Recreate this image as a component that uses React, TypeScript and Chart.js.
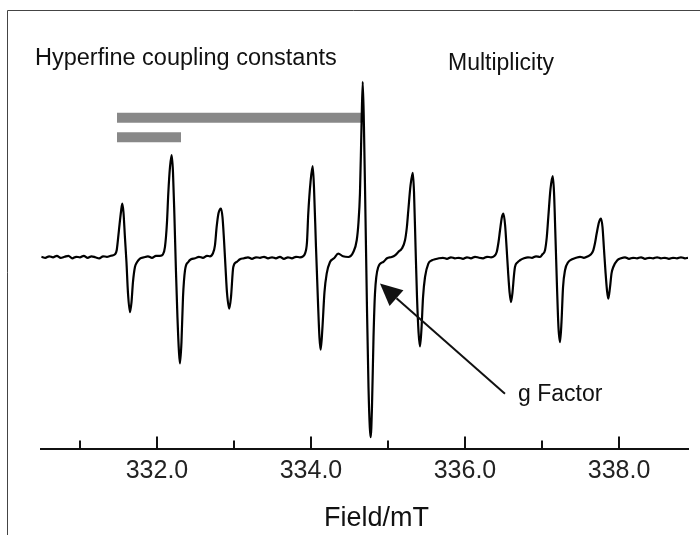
import React, { useEffect, useRef } from "react";
import { Chart, registerables } from "chart.js";

Chart.register(...registerables);

// ESR spectrum: [field (mT), signal (arb. units, baseline = 0)]
const SPECTRUM: [number, number][] = [
  [330.50, 0.5], [330.55, -0.5], [330.60, 1], [330.65, 0], [330.70, 1.5], [330.75, -0.5], [330.80, 0.5],
  [330.85, 1.5], [330.90, -1], [330.95, 0.5], [331.00, 0], [331.05, 1.5], [331.10, -0.5], [331.15, 1],
  [331.20, 0], [331.25, -1], [331.30, 1], [331.35, 0.5], [331.40, 1.5],
  [331.455, 3], [331.477, 7], [331.506, 27], [331.532, 45], [331.549, 53.7], [331.565, 45], [331.584, 20],
  [331.604, -5], [331.623, -35], [331.649, -54.7], [331.669, -45], [331.688, -25], [331.714, -9.7],
  [331.740, -5], [331.779, -1.3],
  [331.831, 0], [331.883, 1], [331.935, -0.5], [331.987, 1.5], [332.039, 1.5],
  [332.078, 3], [332.104, 10.3], [332.130, 35], [332.147, 63.7], [332.169, 90], [332.191, 102], [332.208, 85],
  [332.227, 40], [332.247, -15], [332.266, -60], [332.286, -95], [332.299, -106], [332.318, -85],
  [332.338, -40], [332.364, -13], [332.407, -4.7], [332.442, -2], [332.494, -1],
  [332.545, 0.5], [332.597, -0.5], [332.649, 1.5], [332.688, 1],
  [332.727, 4], [332.753, 12], [332.775, 30.3], [332.799, 44], [332.831, 48.7], [332.851, 40], [332.870, 18],
  [332.890, -10], [332.909, -35], [332.939, -51.3], [332.961, -40], [332.991, -9.7], [333.035, -4.7],
  [333.078, -2],
  [333.130, -1], [333.182, 0], [333.234, -1.5], [333.286, 0], [333.338, -0.5], [333.390, 0.5], [333.442, -1],
  [333.494, 0], [333.545, -1], [333.597, 0.5], [333.649, -1.5], [333.701, 0], [333.753, -1], [333.805, 0.5],
  [333.857, 0], [333.896, 1],
  [333.922, 3.7], [333.948, 15], [333.965, 44], [333.994, 75], [334.022, 91], [334.039, 70], [334.065, 10.3],
  [334.091, -45], [334.110, -80], [334.126, -92.3], [334.149, -70], [334.175, -35], [334.204, -16.3],
  [334.247, -4.7], [334.299, -1], [334.354, 3.7], [334.416, 1], [334.485, 0.3], [334.550, 5.3], [334.594, 17],
  [334.617, 35], [334.636, 63.7], [334.656, 130], [334.672, 175.3], [334.688, 130], [334.708, 40],
  [334.727, -50], [334.747, -130], [334.764, -170], [334.775, -179.7], [334.792, -150], [334.812, -80],
  [334.831, -36.3], [334.874, -9.7], [334.939, -4.7], [334.987, -1], [335.048, 0.3], [335.091, 2],
  [335.134, 5.3], [335.182, 9], [335.221, 17],
  [335.245, 30], [335.264, 47], [335.293, 72], [335.322, 84.3], [335.338, 65], [335.358, 10], [335.377, -40],
  [335.397, -75], [335.416, -89], [335.436, -70], [335.455, -40], [335.481, -19.7], [335.524, -6.3],
  [335.571, -3], [335.610, -2],
  [335.662, -1], [335.714, -0.5], [335.766, -1.5], [335.818, 0], [335.870, -1], [335.922, -0.5],
  [335.974, -1.5], [336.026, 0], [336.078, -1], [336.130, 0.5], [336.182, -0.5], [336.234, -1],
  [336.286, 0.5], [336.338, 0], [336.377, 1],
  [336.412, 5.3], [336.435, 15], [336.455, 27], [336.479, 40], [336.499, 43.7], [336.521, 32], [336.540, 10],
  [336.560, -15], [336.579, -35], [336.597, -44.7], [336.617, -35], [336.636, -18], [336.649, -9.7],
  [336.682, -5], [336.714, -3],
  [336.766, -1], [336.818, 0], [336.870, -0.5], [336.922, 1], [336.974, 0.3], [337.006, 3],
  [337.039, 7], [337.062, 20], [337.082, 40.3], [337.110, 68], [337.139, 81], [337.156, 65], [337.175, 20],
  [337.195, -30], [337.214, -70], [337.234, -84.7], [337.253, -65], [337.273, -30], [337.299, -13],
  [337.342, -4.7], [337.390, -2],
  [337.442, -0.5], [337.494, 0.5], [337.545, -0.5], [337.597, 1], [337.636, 3],
  [337.666, 7], [337.688, 14], [337.710, 23.7], [337.740, 35], [337.766, 38.7], [337.786, 30], [337.805, 8],
  [337.825, -15], [337.844, -33], [337.861, -41.3], [337.883, -30], [337.903, -16], [337.926, -9.7],
  [337.978, -3],
  [338.026, -1], [338.078, 0], [338.130, -1.5], [338.182, -0.5], [338.234, -1], [338.286, 0], [338.338, -1.5],
  [338.390, -0.5], [338.442, -1], [338.494, 0], [338.545, -1], [338.597, -0.5], [338.649, -1.5],
  [338.701, -0.5], [338.753, -1], [338.805, 0], [338.857, -1], [338.896, -0.5],
];

// Hyperfine coupling bars: [start mT, end mT, level]
const COUPLING_LONG: [number, number, number] = [331.481, 334.662, 139.3];
const COUPLING_SHORT: [number, number, number] = [331.481, 332.312, 120];

const FIELD_MIN = 330.494;
const FIELD_MAX = 338.896;
const SIGNAL_MIN = -191;
const SIGNAL_MAX = 257;

const MAJOR_TICKS = [332, 334, 336, 338];
const TICK_LABELS = ["332.0", "334.0", "336.0", "338.0"];

const X_TITLE = "Field/mT";
const LABEL_HYPERFINE = "Hyperfine coupling constants";
const LABEL_MULTIPLICITY = "Multiplicity";
const LABEL_G = "g Factor";

const FONT = '"Liberation Sans", Arial, Helvetica, sans-serif';

const annotationPlugin = {
  id: "esrAnnotations",
  beforeDraw(chart: any, _args: any, opts: any) {
    const { ctx, width, height } = chart;
    ctx.save();
    ctx.strokeStyle = opts.frameColor;
    ctx.lineWidth = 1;
    ctx.beginPath();
    ctx.moveTo(opts.frameLeft, height);
    ctx.lineTo(opts.frameLeft, opts.frameTop);
    ctx.lineTo(width, opts.frameTop);
    ctx.stroke();
    ctx.restore();
  },
  afterDraw(chart: any, _args: any, opts: any) {
    const { ctx } = chart;
    const xs = chart.scales.x;
    const ys = chart.scales.y;
    ctx.save();
    // inward tick marks
    ctx.strokeStyle = "#111";
    ctx.lineWidth = 2;
    const bottom = chart.chartArea.bottom;
    xs.ticks.forEach((t: any) => {
      const px = Math.round(xs.getPixelForValue(t.value));
      const len = MAJOR_TICKS.includes(t.value) ? 12 : 8;
      ctx.beginPath();
      ctx.moveTo(px, bottom);
      ctx.lineTo(px, bottom - len);
      ctx.stroke();
    });
    // texts
    ctx.fillStyle = "#111";
    ctx.textBaseline = "alphabetic";
    opts.texts.forEach((t: any) => {
      ctx.font = `${t.size}px ${FONT}`;
      ctx.textAlign = t.align;
      ctx.fillText(t.text, xs.getPixelForValue(t.x), ys.getPixelForValue(t.y));
    });
    // arrow
    const a = opts.arrow;
    const x1 = xs.getPixelForValue(a.fromX);
    const y1 = ys.getPixelForValue(a.fromY);
    const x2 = xs.getPixelForValue(a.toX);
    const y2 = ys.getPixelForValue(a.toY);
    const ang = Math.atan2(y2 - y1, x2 - x1);
    const hl = a.headLength;
    const hw = a.headWidth;
    const bx = x2 - hl * Math.cos(ang);
    const by = y2 - hl * Math.sin(ang);
    ctx.strokeStyle = "#111";
    ctx.lineWidth = 2;
    ctx.beginPath();
    ctx.moveTo(x1, y1);
    ctx.lineTo(bx, by);
    ctx.stroke();
    ctx.fillStyle = "#111";
    ctx.beginPath();
    ctx.moveTo(x2, y2);
    ctx.lineTo(bx + hw * Math.sin(ang), by - hw * Math.cos(ang));
    ctx.lineTo(bx - hw * Math.sin(ang), by + hw * Math.cos(ang));
    ctx.closePath();
    ctx.fill();
    ctx.restore();
  },
};

export default function App() {
  const ref = useRef<HTMLCanvasElement | null>(null);

  useEffect(() => {
    if (!ref.current) return;
    const bar = (b: [number, number, number]) => [
      { x: b[0], y: b[2] },
      { x: b[1], y: b[2] },
    ];
    const chart = new Chart(ref.current, {
      type: "line",
      data: {
        datasets: [
          {
            label: "ESR spectrum",
            data: SPECTRUM.map(([x, y]) => ({ x, y })),
            borderColor: "#000",
            borderWidth: 2.2,
            pointRadius: 0,
            tension: 0,
            cubicInterpolationMode: "monotone",
            fill: false,
            order: 0,
          },
          {
            label: "Coupling long",
            data: bar(COUPLING_LONG),
            borderColor: "#888888",
            borderWidth: 10,
            borderCapStyle: "butt",
            pointRadius: 0,
            fill: false,
            order: 1,
          },
          {
            label: "Coupling short",
            data: bar(COUPLING_SHORT),
            borderColor: "#888888",
            borderWidth: 10,
            borderCapStyle: "butt",
            pointRadius: 0,
            fill: false,
            order: 1,
          },
        ],
      },
      options: {
        animation: false,
        responsive: false,
        maintainAspectRatio: false,
        layout: { padding: { left: 41, right: 12, top: 0, bottom: 41.5 } },
        plugins: {
          legend: { display: false },
          tooltip: { enabled: false },
          esrAnnotations: {
            frameLeft: 7.5,
            frameTop: 10.5,
            frameColor: "#444",
            texts: [
              { text: LABEL_HYPERFINE, x: 330.416, y: 192, size: 23.5, align: "left" },
              { text: LABEL_MULTIPLICITY, x: 335.779, y: 187, size: 23, align: "left" },
              { text: LABEL_G, x: 336.688, y: -144, size: 23, align: "left" },
              { text: X_TITLE, x: 334.851, y: -268, size: 27, align: "center" },
            ],
            arrow: {
              fromX: 336.519,
              fromY: -136.3,
              toX: 334.896,
              toY: -26.3,
              headLength: 22,
              headWidth: 10.5,
            },
          },
        } as any,
        scales: {
          x: {
            type: "linear",
            min: FIELD_MIN,
            max: FIELD_MAX,
            grid: { display: true, drawOnChartArea: false, drawTicks: false },
            border: { display: true, color: "#111", width: 2 },
            ticks: {
              stepSize: 1,
              includeBounds: false,
              autoSkip: false,
              maxRotation: 0,
              padding: 7.5,
              color: "#222",
              font: { family: FONT, size: 25 },
              callback: (v: any) => {
                const i = MAJOR_TICKS.indexOf(Number(v));
                return i >= 0 ? TICK_LABELS[i] : "";
              },
            },
          },
          y: {
            type: "linear",
            display: false,
            min: SIGNAL_MIN,
            max: SIGNAL_MAX,
          },
        },
      },
      plugins: [annotationPlugin],
    });
    return () => chart.destroy();
  }, []);

  return (
    <div style={{ position: "absolute", left: 0, top: 0, width: 700, height: 535, background: "#fff" }}>
      <canvas ref={ref} width={700} height={535} style={{ display: "block", width: 700, height: 535 }} />
    </div>
  );
}
